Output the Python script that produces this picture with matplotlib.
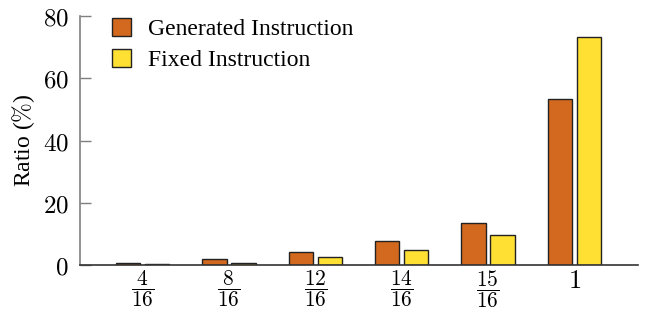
import numpy as np
import matplotlib
matplotlib.use("Agg")
import matplotlib.pyplot as plt

plt.rcParams['mathtext.fontset'] = 'cm'

labels = [r'$\dfrac{4}{16}$', r'$\dfrac{8}{16}$', r'$\dfrac{12}{16}$',
          r'$\dfrac{14}{16}$', r'$\dfrac{15}{16}$', r'$1$']
generated = [0.8, 2.0, 4.2, 7.7, 13.5, 53.3]
fixed = [0.2, 0.8, 2.6, 4.8, 9.8, 73.4]

orange = '#D2691E'
yellow = '#FFE033'
gray = '#7f7f7f'

fig = plt.figure(figsize=(6.46, 3.09), dpi=100)
ax = fig.add_axes([0.124, 0.142, 0.864, 0.806])

x = np.arange(len(labels))
w = 0.284
off = 0.168
ax.bar(x - off, generated, w, color=orange, edgecolor='#222222', linewidth=1.0,
       label='Generated Instruction')
ax.bar(x + off, fixed, w, color=yellow, edgecolor='#222222', linewidth=1.0,
       label='Fixed Instruction')

ax.set_xlim(-0.724, 5.74)
ax.set_ylim(0, 80)
ax.set_xticks(x)
ax.set_xticklabels(labels)
for t in ax.get_xticklabels():
    t.set_fontsize(19 if t.get_text() == '$1$' else 15.5)
ax.set_yticks([0, 20, 40, 60, 80])
ax.set_yticklabels(['$0$', '$20$', '$40$', '$60$', '$80$'], fontsize=18)
ax.tick_params(axis='x', length=0, pad=2)
ax.tick_params(axis='y', direction='in', length=8, color=gray, width=1, pad=8)

for s in ['top', 'right']:
    ax.spines[s].set_visible(False)
for s in ['left', 'bottom']:
    ax.spines[s].set_color(gray)
    ax.spines[s].set_linewidth(1.2)
ax.spines['bottom'].set_color('#333333')

ax.set_ylabel(r'Ratio ($\%$)', fontsize=17, family='Liberation Serif', labelpad=4)

ax.legend(loc='upper left', bbox_to_anchor=(0.04, 1.03), frameon=False,
          prop={'family': 'Liberation Serif', 'size': 17},
          handlelength=0.8, handleheight=0.8, handletextpad=0.75,
          labelspacing=0.35, borderaxespad=0)

fig.savefig('out.png', dpi=100)
